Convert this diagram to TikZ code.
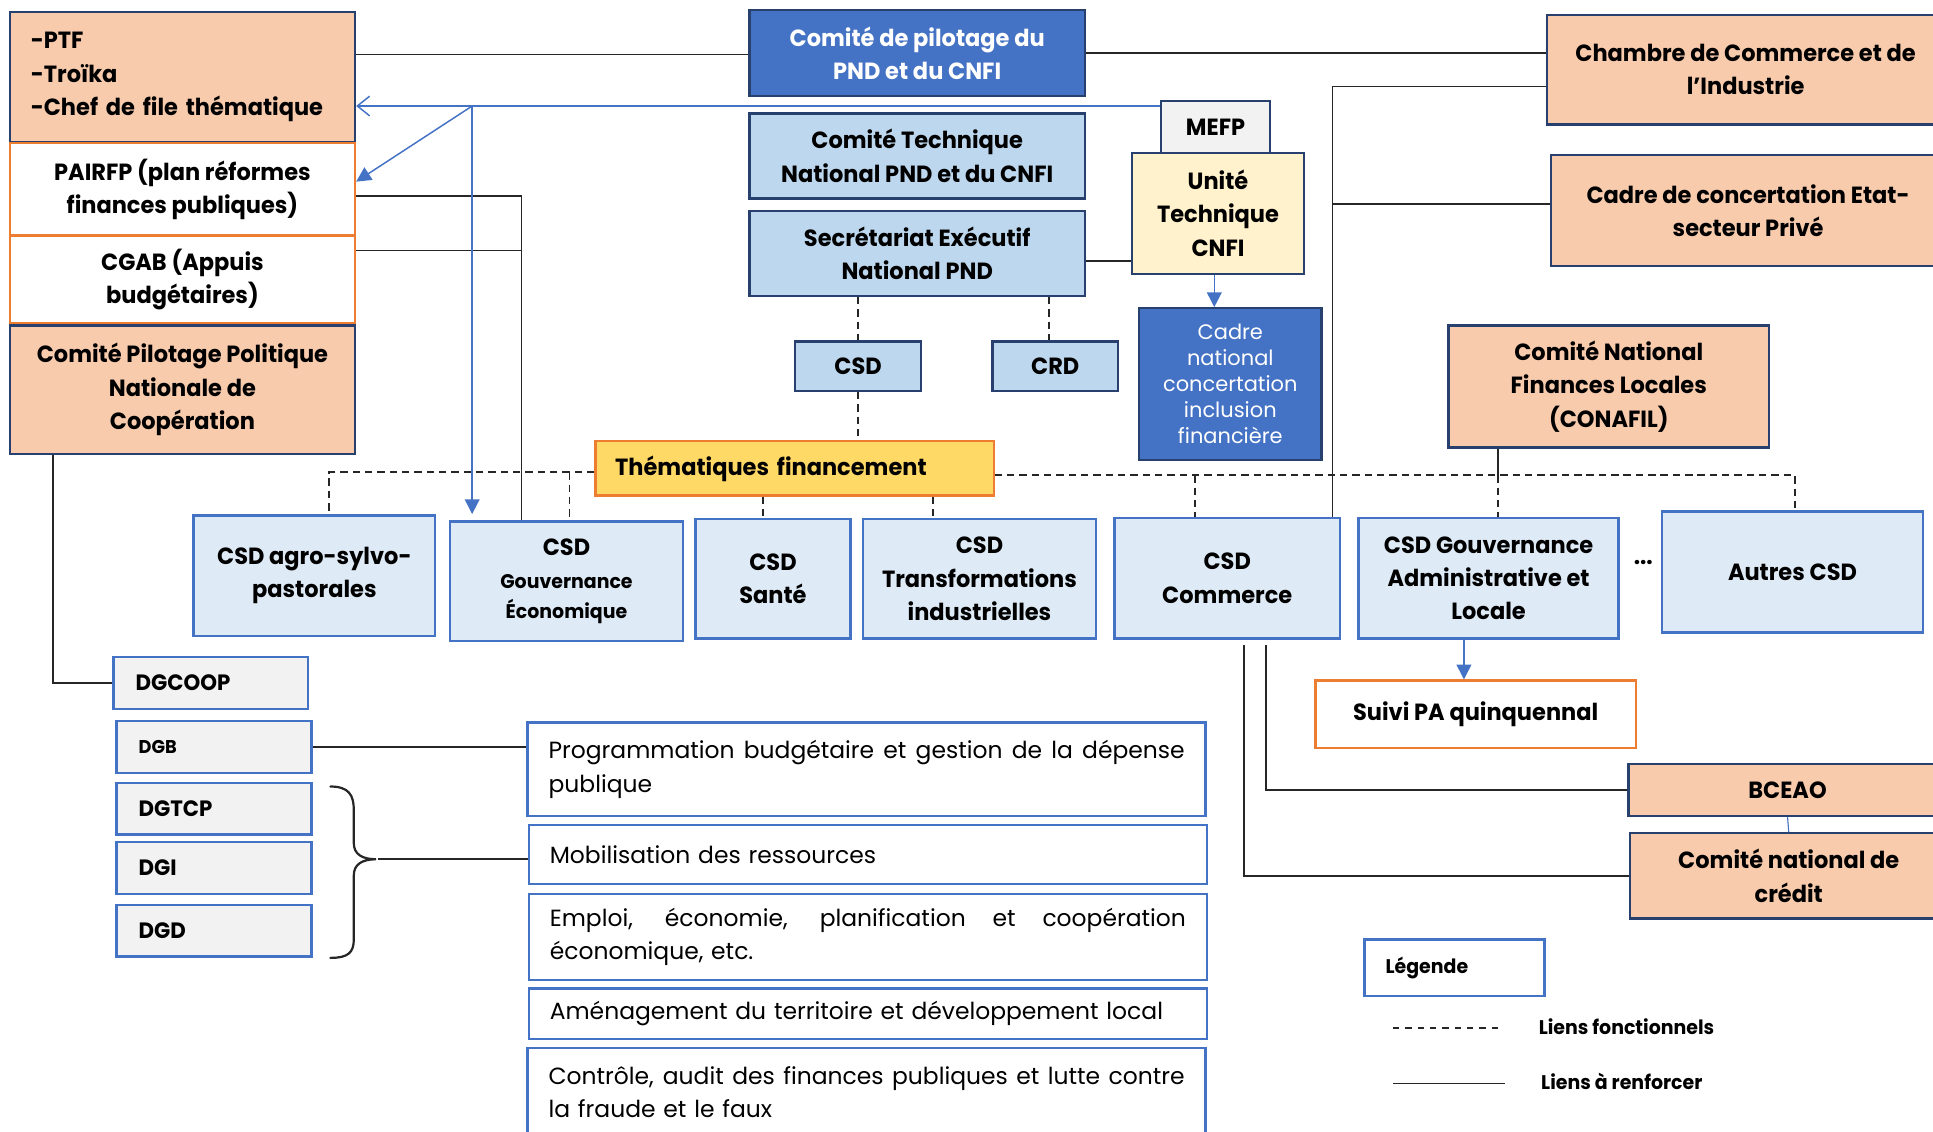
\documentclass[tikz,border=0pt]{standalone}
\usepackage{fontspec}
\setmainfont{Poppins}[BoldFeatures={FakeStretch=0.96}]
\usetikzlibrary{arrows.meta,calc}

\definecolor{peach}{HTML}{F8CBAD}
\definecolor{navy}{HTML}{27406E}
\definecolor{accent}{HTML}{4472C4}
\definecolor{lblue}{HTML}{BDD7EE}
\definecolor{pblue}{HTML}{DEEBF7}
\definecolor{cream}{HTML}{FFF2CC}
\definecolor{gold}{HTML}{FFD966}
\definecolor{orng}{HTML}{ED7D31}
\definecolor{lgrey}{HTML}{F2F2F2}
\definecolor{linkc}{HTML}{262626}

\newcommand{\fbig}{\fontsize{19pt}{27pt}\selectfont\bfseries}
\newcommand{\freg}{\fontsize{19pt}{27pt}\selectfont}
\newcommand{\fcadre}{\fontsize{17pt}{21pt}\selectfont}
\newcommand{\fsmallb}{\fontsize{16pt}{24pt}\selectfont\bfseries}
\newcommand{\fdg}{\fontsize{18pt}{24pt}\selectfont\bfseries}
\newcommand{\fdgb}{\fontsize{15pt}{20pt}\selectfont\bfseries}
\newcommand{\flegend}{\fontsize{16pt}{20pt}\selectfont\bfseries}
% a fully justified line of the mission boxes
\newcommand{\jline}[1]{\makebox[516pt][s]{\spaceskip=0pt\xspaceskip=0pt\relax #1}}

\tikzset{
  boxbase/.style={draw, line width=1.8pt, inner sep=0pt, align=center, font=\fbig},
  peachbox/.style={boxbase, draw=navy, fill=peach},
  darkbox/.style={boxbase, draw=navy, fill=accent, text=white},
  lightbox/.style={boxbase, draw=navy, fill=lblue},
  greybox/.style={boxbase, draw=navy, fill=lgrey},
  creambox/.style={boxbase, draw=navy, fill=cream},
  orangebox/.style={boxbase, draw=orng, fill=white},
  goldbox/.style={boxbase, draw=orng, fill=gold},
  csdbox/.style={boxbase, draw=accent, fill=pblue, line width=2pt},
  dgbox/.style={boxbase, draw=accent, fill=lgrey, line width=2pt, align=left,
    text width=122pt, font=\fdg, minimum width=158pt, minimum height=42pt},
  listbox/.style={boxbase, draw=accent, fill=white, line width=2pt, align=left,
    text width=516pt, font=\freg, minimum width=550pt},
  solidlink/.style={draw=linkc, line width=1.3pt},
  dashlink/.style={draw=linkc, line width=1.5pt, dash pattern=on 6pt off 4pt},
  bluelink/.style={draw=accent, line width=1.2pt},
  tip/.style={-{Triangle[length=12pt,width=12pt]}},
}

\begin{document}
\begin{tikzpicture}[x=1pt,y=-1pt]
\useasboundingbox (0,0) rectangle (1568,918);

% --- left column ---
\node[peachbox, minimum width=280pt, minimum height=105pt, text width=246pt, align=left] (ptf) at (148,62.5)
  {\mbox{-PTF}\\\mbox{-Troïka}\\\mbox{-Chef de file thématique}};
\node[orangebox, minimum width=280pt, minimum height=75pt] (pairfp) at (148,153.5)
  {PAIRFP (plan réformes\\finances publiques)};
\node[orangebox, minimum width=280pt, minimum height=71pt] (cgab) at (148,226.5)
  {CGAB (Appuis\\budgétaires)};
\node[peachbox, minimum width=280pt, minimum height=104pt] (cpp) at (148,316)
  {Comité Pilotage Politique\\Nationale de\\Coopération};

% --- central column ---
\node[darkbox, minimum width=272pt, minimum height=70pt] (copil) at (744,43)
  {Comité de pilotage du\\PND et du CNFI};
\node[lightbox, minimum width=272pt, minimum height=69pt] (ctn) at (744,126.5)
  {Comité Technique\\National PND et du CNFI};
\node[lightbox, minimum width=272pt, minimum height=69pt] (sen) at (744,205.5)
  {Secrétariat Exécutif\\National PND};
\node[greybox, minimum width=88pt, minimum height=42pt] (mefp) at (986,103) {MEFP};
\node[creambox, minimum width=140pt, minimum height=98pt] (utc) at (988,173)
  {Unité\\Technique\\CNFI};
\node[darkbox, minimum width=148pt, minimum height=123pt, font=\fcadre] (cnc) at (998,311.5)
  {Cadre\\national\\concertation\\inclusion\\financière};
\node[lightbox, minimum width=102pt, minimum height=40pt] (csd) at (696,297) {CSD};
\node[lightbox, minimum width=102pt, minimum height=40pt] (crd) at (856,297) {CRD};

% --- right column ---
\node[peachbox, minimum width=322pt, minimum height=89pt] (cci) at (1416,56.5)
  {Chambre de Commerce et de\\l’Industrie};
\node[peachbox, minimum width=320pt, minimum height=90pt] (ccp) at (1418,171)
  {Cadre de concertation Etat-\\secteur Privé};
\node[peachbox, minimum width=260pt, minimum height=99pt] (conafil) at (1305,313.5)
  {Comité National\\Finances Locales\\(CONAFIL)};

% --- thematic bar ---
\node[goldbox, minimum width=323pt, minimum height=44pt, text width=291pt, align=left] (them) at (644.5,380)
  {Thématiques financement};

% --- sector committees ---
\node[csdbox, minimum width=196pt, minimum height=98pt] (agro) at (255,467) {CSD agro-sylvo-\\pastorales};
\node[csdbox, minimum width=189pt, minimum height=97pt] (gouveco) at (459.5,471.5)
  {CSD\\{\fsmallb Gouvernance}\\[-3pt]{\fsmallb Économique}};
\node[csdbox, minimum width=126pt, minimum height=97pt] (sante) at (627,469.5) {CSD\\Santé};
\node[csdbox, minimum width=189pt, minimum height=97pt] (transf) at (794.5,469.5)
  {CSD\\Transformations\\industrielles};
\node[csdbox, minimum width=183pt, minimum height=98pt] (commerce) at (995.5,469) {CSD\\Commerce};
\node[csdbox, minimum width=211pt, minimum height=98pt] (gadm) at (1207.5,469)
  {CSD Gouvernance\\Administrative et\\Locale};
\node[anchor=base, font=\fbig, inner sep=0pt] (dots) at (1333,458) {...};
\node[csdbox, minimum width=212pt, minimum height=98pt] (autres) at (1454,464) {Autres CSD};

% --- follow-up and monetary bodies ---
\node[orangebox, minimum width=260pt, minimum height=55pt] (suivi) at (1197,579.5) {Suivi PA quinquennal};
\node[peachbox, minimum width=258pt, minimum height=42pt] (bceao) at (1450,641) {BCEAO};
\node[peachbox, minimum width=258pt, minimum height=69pt] (cred) at (1451,710.5) {Comité national de\\crédit};

% --- general directorates ---
\node[dgbox] (dgcoop) at (171,554) {DGCOOP};
\node[dgbox, font=\fdgb] (dgb) at (173.5,606) {DGB};
\node[dgbox] (dgtcp) at (173.5,656) {DGTCP};
\node[dgbox] (dgi) at (173.5,704) {DGI};
\node[dgbox] (dgd) at (173.5,755) {DGD};

% --- missions ---
\node[listbox, minimum height=76pt] (prog) at (703,624)
  {\jline{Programmation budgétaire et gestion de la dépense}\\publique};
\node[listbox, minimum height=48pt] (mob) at (704,693) {Mobilisation des ressources};
\node[listbox, minimum height=70pt] (emploi) at (704,760)
  {\jline{Emploi, économie, planification et coopération}\\économique, etc.};
\node[listbox, minimum height=41pt] (amen) at (704,822.5) {Aménagement du territoire et développement local};
\node[listbox, minimum height=72pt] (ctrl) at (703,886)
  {\jline{Contrôle, audit des finances publiques et lutte contre}\\la fraude et le faux};

% --- legend ---
\node[boxbase, draw=accent, fill=white, line width=2pt, minimum width=146pt, minimum height=46pt,
  text width=112pt, align=left, font=\flegend] (leg) at (1180,785) {Légende};
\coordinate (fa) at (1130,834);
\coordinate (fb) at (1218,834);
\draw[draw=linkc, line width=1.3pt, dash pattern=on 5pt off 5pt] (fa) -- (fb);
\node[anchor=west, inner sep=0pt, font=\flegend] (lf) at (1248,833) {Liens fonctionnels};
\coordinate (sa) at (1130,879);
\coordinate (sb) at (1221,879);
\draw[solidlink] (sa) -- (sb);
\node[anchor=west, inner sep=0pt, font=\flegend] (lr) at (1250,877) {Liens à renforcer};

% --- brace grouping DGTCP, DGI, DGD ---
\draw[linkc, line width=1.8pt, line cap=round]
  (268,638) .. controls (283,638) and (287,645) .. (287,657) -- (287,684)
  .. controls (287,693) and (294,697) .. (305,697)
  .. controls (294,697) and (287,701) .. (287,710) -- (287,762)
  .. controls (287,773) and (282,777) .. (268,777);
\coordinate (bt) at (307,697);
\draw[solidlink] (bt) -- (bt -| mob.west);

% --- solid links (to be reinforced) ---
\coordinate (pt1) at ($(ptf.north east)!0.33!(ptf.south east)$);
\draw[solidlink] (pt1) -- (pt1 -| copil.west);
\draw[solidlink] (copil.east) -- (copil.east -| cci.west);

\coordinate (p1) at ($(pairfp.north east)!0.57!(pairfp.south east)$);
\coordinate (g1) at ([xshift=-36.5pt]gouveco.north);
\draw[solidlink] (p1) -| (g1);
\coordinate (c1) at ($(cgab.north east)!0.18!(cgab.south east)$);
\draw[solidlink] (c1) -- (c1 -| g1);

\coordinate (s2) at ($(sen.north east)!0.59!(sen.south east)$);
\draw[solidlink] (s2) -- (s2 -| utc.west);

\coordinate (k1) at ($(cci.north west)!0.65!(cci.south west)$);
\coordinate (cm1) at ([xshift=85.5pt]commerce.north);
\draw[solidlink] (k1) -| (cm1);
\coordinate (k2) at ($(ccp.north west)!0.44!(ccp.south west)$);
\draw[solidlink] (k2) -- (k2 -| cm1);

\coordinate (cb1) at ([xshift=31.5pt,yshift=-4pt]commerce.south);
\draw[solidlink] (cb1) |- (bceao.west);
\coordinate (cb2) at ([xshift=13.5pt,yshift=-4pt]commerce.south);
\draw[solidlink] (cb2) |- (cred.west);

\coordinate (cp1) at ([xshift=36pt]cpp.south west);
\draw[solidlink] (cp1) |- (dgcoop.west);
\draw[solidlink] (dgb.east) -- (dgb.east -| prog.west);

% --- functional (dashed) links ---
\draw[dashlink] (csd.north |- sen.south) -- (csd.north);
\coordinate (cr1) at ([xshift=-5pt]crd.north);
\draw[dashlink] (cr1 |- sen.south) -- (cr1);
\draw[dashlink] (csd.south) -- (csd.south |- them.north);

\coordinate (T1) at ($(them.north west)!0.57!(them.south west)$);
\coordinate (ag1) at ([xshift=12pt]agro.north);
\draw[dashlink] (T1) -| (ag1);
\coordinate (ge1) at ([xshift=2.5pt]gouveco.north);
\draw[dashlink] (ge1 |- T1) -- (ge1);

\coordinate (sa1) at ([xshift=-8pt]sante.north);
\draw[dashlink] (sa1 |- them.south) -- (sa1);
\coordinate (tr1) at ([xshift=-37.5pt]transf.north);
\draw[dashlink] (tr1 |- them.south) -- (tr1);

\coordinate (T2) at ($(them.north east)!0.62!(them.south east)$);
\coordinate (au1) at ([xshift=2pt]autres.north);
\draw[dashlink] (T2) -| (au1);
\coordinate (co1) at ([xshift=-26.5pt]commerce.north);
\draw[dashlink] (co1 |- T2) -- (co1);
\coordinate (cf) at ([xshift=-90pt]conafil.south);
\draw[solidlink] (cf) -- (cf |- T2);
\draw[dashlink] (cf |- T2) -- (cf |- gadm.north);

% --- blue links ---
\coordinate (j) at (383,86);
\draw[bluelink, {Straight Barb[length=10pt,width=16pt]}-] (j -| ptf.east) -- (j -| mefp.west);
\draw[bluelink, tip] (j) -- ($(pairfp.north east)!0.42!(pairfp.south east)$);
\draw[bluelink, tip, shorten >=5pt] (j) -- (j |- gouveco.north);
\coordinate (u1) at ([xshift=-3pt]utc.south);
\draw[bluelink, tip] (u1) -- (u1 |- cnc.north);
\coordinate (ga1) at ([xshift=-20pt]gadm.south);
\draw[bluelink, tip] (ga1) -- (ga1 |- suivi.north);
\draw[bluelink, line width=0.9pt] (bceao.south) -- (cred.north);

\end{tikzpicture}
\end{document}
